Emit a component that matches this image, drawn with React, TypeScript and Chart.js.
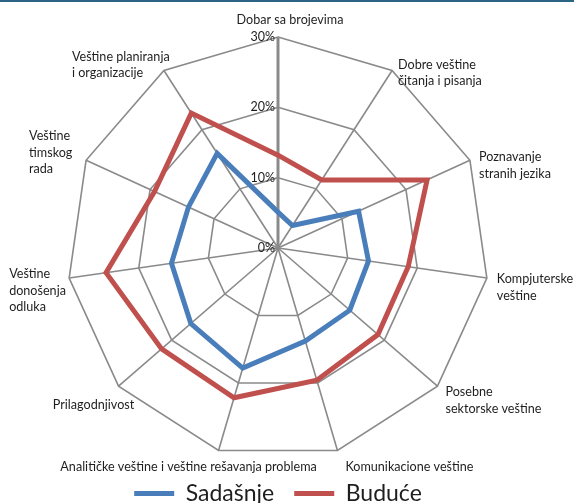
import React, { useEffect, useRef } from "react";
import { Chart, registerables } from "chart.js";

Chart.register(...registerables);

// ---- data ----
const categories: string[][] = [
  ["Dobar sa brojevima"],
  ["Dobre veštine", "čitanja i pisanja"],
  ["Poznavanje", "stranih jezika"],
  ["Kompjuterske", "veštine"],
  ["Posebne", "sektorske veštine"],
  ["Komunikacione veštine"],
  ["Analitičke veštine i veštine rešavanja problema"],
  ["Prilagodnjivost"],
  ["Veštine", "donošenja", "odluka"],
  ["Veštine", "timskog", "rada"],
  ["Veštine planiranja", "i organizacije"],
];
const seriesNames = ["Sadašnje", "Buduće"];
const sadasnje = [5.1, 3.8, 12.6, 13.0, 13.5, 13.8, 17.8, 16.4, 15.3, 14.0, 16.0];
const buduce = [13.2, 11.5, 23.3, 18.7, 18.8, 19.6, 22.2, 21.9, 24.7, 19.3, 22.8];
const tickValues = [0, 10, 20, 30];
const tickLabels = ["0%", "10%", "20%", "30%"];

// ---- styling ----
const BLUE = "#4a7ebb";
const RED = "#c0504d";
const GRID = "#8a8a8a";
const TEXT = "#1e1e1e";
const FONT = "Lato";
const LABEL_PLACEMENT: { dx: number; dy: number; align: CanvasTextAlign }[] = [
  { dx: 12, dy: -17, align: "center" },
  { dx: 6, dy: -6, align: "left" },
  { dx: 9, dy: -3, align: "left" },
  { dx: 10, dy: 1, align: "left" },
  { dx: 8, dy: 6, align: "left" },
  { dx: 8, dy: 16, align: "left" },
  { dx: -30, dy: 16, align: "center" },
  { dx: -25, dy: 19, align: "center" },
  { dx: -60, dy: -4, align: "left" },
  { dx: -57, dy: -24, align: "left" },
  { dx: -92, dy: -14, align: "left" },
];

const textPlugin = {
  id: "radarTexts",
  afterDraw(chart: any) {
    const scale = chart.scales.r;
    const ctx: CanvasRenderingContext2D = chart.ctx;
    ctx.save();
    ctx.fillStyle = TEXT;
    ctx.textBaseline = "middle";
    ctx.font = `12.6px ${FONT}`;
    categories.forEach((lines, i) => {
      const p = scale.getPointPosition(i, scale.drawingArea);
      const st = LABEL_PLACEMENT[i];
      ctx.textAlign = st.align;
      lines.forEach((t, k) => ctx.fillText(t, p.x + st.dx, p.y + st.dy + k * 16.5));
    });
    ctx.textAlign = "right";
    ctx.font = `12.5px ${FONT}`;
    tickValues.forEach((v, k) => {
      const d = scale.getDistanceFromCenterForValue(v);
      ctx.fillText(tickLabels[k], scale.xCenter - 3, scale.yCenter - d);
    });
    ctx.restore();
  },
};

export default function App() {
  const ref = useRef<HTMLCanvasElement>(null);
  useEffect(() => {
    const canvas = ref.current!;
    const chart = new Chart(canvas, {
      type: "radar",
      data: {
        labels: categories.map((c) => c.join(" ")),
        datasets: [
          {
            label: seriesNames[0],
            data: sadasnje,
            borderColor: BLUE,
            backgroundColor: BLUE,
            borderWidth: 5,
            fill: false,
            pointRadius: 0,
            pointHoverRadius: 0,
            pointStyle: "line",
            borderCapStyle: "round",
          },
          {
            label: seriesNames[1],
            data: buduce,
            borderColor: RED,
            backgroundColor: RED,
            borderWidth: 5,
            fill: false,
            pointRadius: 0,
            pointHoverRadius: 0,
            pointStyle: "line",
            borderCapStyle: "round",
          },
        ],
      },
      options: {
        responsive: false,
        animation: false,
        devicePixelRatio: 1,
        layout: { padding: { left: 67, right: 85, top: 34, bottom: 0 } },
        plugins: {
          legend: {
            position: "bottom",
            labels: {
              usePointStyle: true,
              pointStyleWidth: 40,
              padding: 20,
              color: TEXT,
              font: { family: FONT, size: 23 },
            },
          },
          tooltip: { enabled: false },
        },
        scales: {
          r: {
            min: 0,
            max: 30,
            ticks: { display: false, stepSize: 10 },
            pointLabels: { display: false },
            grid: { color: GRID, lineWidth: 1.6 },
            angleLines: {
              color: GRID,
              lineWidth: (ctx: any) => (ctx.index === 0 ? 3 : 1.6),
            },
          },
        },
      },
      plugins: [textPlugin],
    } as any);
    return () => chart.destroy();
  }, []);

  return (
    <div
      style={{
        position: "fixed",
        left: 0,
        top: 0,
        width: 574,
        height: 503,
        overflow: "hidden",
        background: "#fff",
      }}
    >
      <canvas ref={ref} width={574} height={515} style={{ display: "block" }} />
      <div
        style={{
          position: "absolute",
          left: 0,
          top: 0,
          width: 574,
          height: 2,
          background: "#2c6483",
        }}
      />
    </div>
  );
}
